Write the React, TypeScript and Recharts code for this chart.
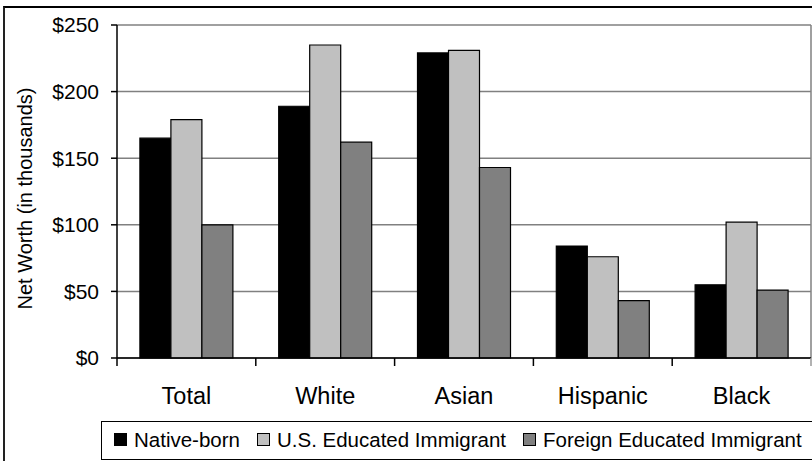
import React from 'react';
import { BarChart, Bar, XAxis, YAxis, CartesianGrid, Legend } from 'recharts';

// Net worth by group, thousands of dollars
const categories = ['Total', 'White', 'Asian', 'Hispanic', 'Black'];
const nativeBorn = [165, 189, 229, 84, 55];
const usEducated = [179, 235, 231, 76, 102];
const foreignEducated = [100, 162, 143, 43, 51];

const seriesNames = ['Native-born', 'U.S. Educated Immigrant', 'Foreign Educated Immigrant'];
const seriesKeys = ['native', 'usEd', 'foreignEd'];
const seriesColors = ['#000000', '#c0c0c0', '#808080'];
const yTicks = [0, 50, 100, 150, 200, 250];

const data = categories.map((name, i) => ({
  name,
  native: nativeBorn[i],
  usEd: usEducated[i],
  foreignEd: foreignEducated[i],
}));

const WIDTH = 812;
const HEIGHT = 461;
const X_AXIS_HEIGHT = 30;
const MARGIN = { top: 25, right: 1, bottom: 103 - X_AXIS_HEIGHT, left: 17 };
const Y_AXIS_WIDTH = 100;
const FONT = '"Liberation Sans", Arial, Helvetica, sans-serif';

const plotLeft = MARGIN.left + Y_AXIS_WIDTH;
const plotWidth = WIDTH - plotLeft - MARGIN.right;
const band = plotWidth / categories.length;

// category label with tick marks on the band boundaries
const CategoryTick = (props: any) => {
  const { x, y, payload, index } = props;
  const axisY = y - 8;
  const left = x - band / 2;
  const right = x + band / 2;
  return (
    <g>
      <line x1={left} y1={axisY} x2={left} y2={axisY + 8} stroke="#000" strokeWidth={1.5} />
      {index === categories.length - 1 && (
        <line x1={right} y1={axisY} x2={right} y2={axisY + 8} stroke="#999" strokeWidth={1.5} />
      )}
      <text x={x} y={axisY + 46} textAnchor="middle" fontSize={23.5} fill="#000" fontFamily={FONT}>
        {payload.value}
      </text>
    </g>
  );
};

const YLabel = (props: any) => {
  const { viewBox } = props;
  const cx = viewBox.x + 8;
  const cy = viewBox.y + viewBox.height / 2 + 7;
  return (
    <text
      x={cx}
      y={cy}
      transform={`rotate(-90 ${cx} ${cy})`}
      textAnchor="middle"
      dominantBaseline="central"
      fontSize={20}
      fill="#000"
      fontFamily={FONT}
    >
      Net Worth (in thousands)
    </text>
  );
};

const LegendBox = () => (
  <div
    style={{
      boxSizing: 'border-box',
      width: 740,
      height: 39,
      border: '1px solid #000',
      background: '#fff',
      display: 'flex',
      alignItems: 'center',
      paddingLeft: 12,
      paddingBottom: 2,
      fontSize: 20.5,
      fontFamily: FONT,
      color: '#000',
      whiteSpace: 'nowrap',
    }}
  >
    {seriesNames.map((n, i) => (
      <div key={n} style={{ display: 'flex', alignItems: 'center', marginRight: 17 }}>
        <span
          style={{
            display: 'inline-block',
            width: 11,
            height: 11,
            background: seriesColors[i],
            border: '1px solid #000',
            marginRight: 7,
          }}
        />
        <span>{n}</span>
      </div>
    ))}
  </div>
);

export default function App() {
  return (
    <div
      style={{
        position: 'absolute',
        left: 0,
        top: 0,
        width: WIDTH,
        height: HEIGHT,
        overflow: 'hidden',
        background: '#fff',
        fontFamily: FONT,
      }}
    >
      <div
        style={{
          position: 'absolute',
          left: 3,
          top: 6,
          width: WIDTH,
          height: HEIGHT,
          borderTop: '2px solid #000',
          borderLeft: '2px solid #222',
        }}
      />
      <BarChart
        width={WIDTH}
        height={HEIGHT}
        data={data}
        margin={MARGIN}
        barCategoryGap="16.5%"
        barGap={0}
      >
        <CartesianGrid
          stroke="#808080"
          strokeWidth={1.5}
          verticalCoordinatesGenerator={({ offset }: any) => [offset.left + offset.width]}
        />
        <XAxis
          dataKey="name"
          height={X_AXIS_HEIGHT}
          tickLine={false}
          tickSize={8}
          tickMargin={0}
          axisLine={{ stroke: '#000', strokeWidth: 1.5 }}
          tick={<CategoryTick />}
          interval={0}
        />
        <YAxis
          width={Y_AXIS_WIDTH}
          domain={[0, 250]}
          ticks={yTicks}
          tickFormatter={(v) => `$${v}`}
          tickSize={6}
          tickMargin={12}
          tick={{ fill: '#000', fontSize: 21, fontFamily: FONT }}
          tickLine={{ stroke: '#000', strokeWidth: 1.5 }}
          axisLine={{ stroke: '#000', strokeWidth: 1.5 }}
          label={<YLabel />}
        />
        <Legend
          verticalAlign="middle"
          align="center"
          content={<LegendBox />}
          wrapperStyle={{ position: 'absolute', left: 101, top: 421, width: 740 }}
        />
        {seriesKeys.map((k, i) => (
          <Bar
            key={k}
            dataKey={k}
            name={seriesNames[i]}
            fill={seriesColors[i]}
            stroke="#000"
            strokeWidth={1.2}
            isAnimationActive={false}
          />
        ))}
      </BarChart>
    </div>
  );
}
